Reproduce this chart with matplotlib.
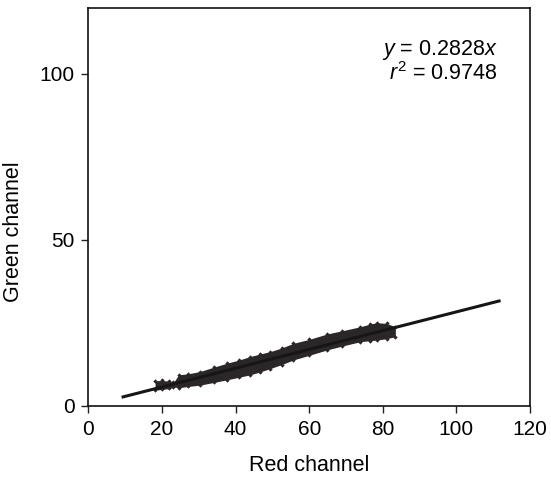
import numpy as np
import matplotlib
matplotlib.use("Agg")
import matplotlib.pyplot as plt

plt.rcParams['font.family'] = ['Liberation Sans', 'DejaVu Sans']
plt.rcParams['mathtext.fontset'] = 'custom'
plt.rcParams['mathtext.rm'] = 'Liberation Sans'
plt.rcParams['mathtext.it'] = 'Liberation Sans:italic'

# scatter cloud envelope (red channel vs green channel)
red_x = [18.1, 20.0, 22.0, 23.1, 24.5, 27.0, 30.3, 34.0, 37.6, 41.0, 43.9, 46.7,
         49.4, 52.5, 55.7, 60.0, 64.8, 69.0, 73.9, 76.5, 78.4, 81.0, 83.4]
green_upper = [7.5, 7.6, 7.4, 7.0, 9.3, 9.6, 10.3, 11.6, 12.8, 13.8, 14.8, 15.6,
               16.3, 17.4, 18.8, 20.0, 21.6, 22.6, 23.8, 24.6, 25.0, 24.8, 23.8]
green_lower = [4.7, 4.9, 5.2, 5.7, 5.4, 5.8, 6.2, 7.0, 7.8, 8.6, 9.3, 10.2,
               11.2, 12.4, 13.8, 15.2, 16.8, 18.0, 19.3, 19.6, 19.8, 20.2, 20.8]

# regression through origin
slope = 0.2828
fit_x = [9, 112]

fig = plt.figure(figsize=(5.51, 4.79), dpi=100)
ax = fig.add_axes([0.1606, 0.153, 0.8013, 0.8313])

band = '#2b2628'
ax.fill_between(red_x, green_lower, green_upper, color=band, lw=0, zorder=2)
ax.scatter(red_x, green_upper, marker='D', s=5, color=band, lw=0, zorder=2)
ax.scatter(red_x, green_lower, marker='D', s=5, color=band, lw=0, zorder=2)

fx = np.array(fit_x)
ax.plot(fx, slope * fx, color='#161616', lw=2.2, solid_capstyle='butt', zorder=3)

ax.set_xlim(0, 120)
ax.set_ylim(0, 120)
ax.set_xticks([0, 20, 40, 60, 80, 100, 120])
ax.set_yticks([0, 50, 100])
ax.tick_params(direction='out', length=5, width=1.0, labelsize=15, color='#222222')
ax.tick_params(axis='y', pad=5)
ax.tick_params(axis='x', pad=5)
for s in ax.spines.values():
    s.set_linewidth(1.2)
    s.set_color('#111111')

ax.set_xlabel('Red channel', fontsize=15.5, labelpad=12)
ax.set_ylabel('Green channel', fontsize=15.5)
ax.yaxis.set_label_coords(-0.146, 0.436)

ax.text(0.927, 0.865, '$\\it{y}$ = 0.2828$\\it{x}$\n$\\it{r}^2$ = 0.9748',
        transform=ax.transAxes, ha='right', va='center', ma='right',
        fontsize=15.5, linespacing=1.0)

fig.savefig('out.png', dpi=100)
